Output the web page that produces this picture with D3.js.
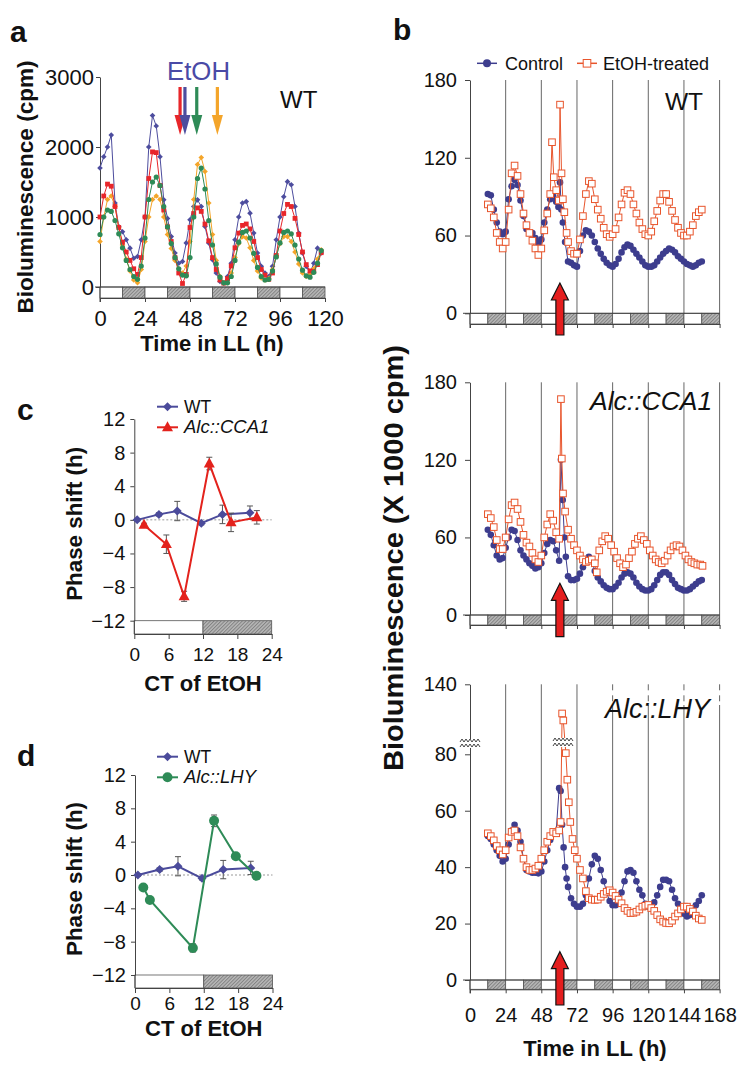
<!DOCTYPE html>
<html><head><meta charset="utf-8">
<script src="https://cdn.jsdelivr.net/npm/d3@7"></script>
<style>body{margin:0;background:#fff}</style>
</head><body><svg id="chart" width="750" height="1083"></svg>
<script>
// ---------------- DATA ----------------
// Panel a: WT bioluminescence (cpm), EtOH at different times
const timeA = [0,2,4,6,8,10,12,14,16,18,20,22,24,26,28,30,32,34,36,38,40,42,44,46,48,50,52,54,56,58,60,62,64,66,68,70,72,74,76,78,80,82,84,86,88,90,92,94,96,98,100,102,104,106,108,110,112,114,116,118];
const blueA = [1700,1860,2000,2170,1200,865,790,675,555,410,435,675,1000,2000,2450,2300,1860,1245,980,720,485,340,365,630,960,1150,1245,1150,865,630,390,200,80,57,150,340,675,1000,1200,1220,1055,770,485,295,200,150,295,675,1000,1290,1505,1460,1150,770,485,295,200,340,555,485];
const redA = [1000,1300,1470,1440,1150,850,640,500,380,260,180,420,1000,1550,1930,1920,1450,1100,860,650,420,200,50,180,850,1050,1130,1080,900,660,420,250,100,55,120,300,560,770,880,900,830,650,420,250,170,110,200,450,800,1050,1180,1150,980,750,500,320,230,220,320,490];
const greenA = [750,1000,1100,1080,950,760,560,380,250,150,110,300,700,1250,1500,1570,1450,1150,860,620,420,260,170,160,420,1000,1550,1700,1400,950,600,330,140,60,60,150,380,640,780,800,700,480,280,150,100,110,230,430,630,780,800,760,600,400,240,160,140,210,340,520];
const orangeA = [650,1000,1250,1300,1150,850,600,400,230,100,60,250,650,1000,1250,1300,1250,1000,750,550,380,260,200,300,650,1250,1750,1850,1650,1200,750,380,150,60,60,200,420,620,720,700,560,380,230,130,100,120,250,450,620,720,720,650,500,330,200,150,180,260,400,530];
const arrowTimesA = [42.7, 45.3, 51.6, 62.6];
const arrowColorsA = ["#e8262a", "#4d4d9e", "#2e8b57", "#f4a52a"];
const aTicksX = [0,24,48,72,96,120];
const aTicksY = [0,1000,2000,3000];

// Panel b: [time (h), bioluminescence x1000 cpm]
const wtControl = [[12,92],[14,91],[16,80],[18,70],[20,63],[22,61],[24,63],[26,88],[28,98],[30,103],[32,99],[34,87],[36,75],[38,65],[40,62],[42,62],[44,58],[46,54],[48,57],[50,70],[52,80],[54,88],[56,90],[58,86],[59.5,82],[60.6,101],[61.5,80],[62.5,70],[64,55],[66,40],[68,39],[70,37],[72,36],[74,48],[76,60],[78,64],[80,63],[82,60],[84,55],[86,50],[88,46],[90,42],[92,39],[94,37],[96,36],[98,38],[100,42],[102,47],[104,51],[106,53],[108,52],[110,49],[112,46],[114,43],[116,40],[118,37],[120,36],[122,36],[124,37],[126,40],[128,43],[130,46],[132,48],[134,50],[136,49],[138,47],[140,44],[142,42],[144,40],[146,38],[148,37],[150,36],[152,37],[154,39],[156,40]];
const wtEtOH = [[12,84],[14,81],[16,74],[18,62],[20,55],[22,50],[24,55],[26,80],[28,108],[30,114],[32,106],[34,92],[36,77],[38,68],[40,62],[42,56],[44,50],[46,45],[48,50],[50,64],[52,77],[54,92],[55.2,132],[56.4,105],[58,95],[59.8,87],[60.6,161],[61.6,108],[62.5,88],[63.5,78],[65,62],[66,55],[68,48],[70,46],[72,46],[74,57],[76,75],[78,92],[80,102],[82,100],[84,88],[86,80],[88,73],[90,66],[92,61],[94,59],[96,61],[98,65],[100,74],[102,84],[104,93],[106,95],[108,92],[110,84],[112,77],[114,70],[116,65],[118,61],[120,60],[122,63],[124,71],[126,79],[128,87],[130,92],[132,92],[134,86],[136,79],[138,72],[140,66],[142,62],[144,60],[146,60],[148,63],[150,68],[152,75],[154,78],[156,80]];
const ccaControl = [[12,66],[14,62],[16,54],[18,46],[20,43],[22,44],[24,52],[26,60],[28,66],[30,65],[32,58],[34,50],[36,46],[38,43],[40,40],[42,38],[44,36],[46,37],[48,40],[50,48],[52,55],[54,58],[56,57],[58,50],[60,42],[61.2,120],[62.4,89],[63.5,60],[64.5,45],[66,30],[68,27],[70,27],[72,28],[74,32],[76,37],[78,42],[80,45],[82,42],[84,34],[86,29],[88,26],[90,23],[92,21],[94,20],[96,20],[98,22],[100,25],[102,29],[104,32],[106,33],[108,32],[110,29],[112,25],[114,22],[116,20],[118,19],[120,19],[122,20],[124,23],[126,27],[128,31],[130,33],[132,33],[134,31],[136,27],[138,24],[140,21],[142,20],[144,19],[146,19],[148,20],[150,22],[152,24],[154,26],[156,27]];
const ccaEtOH = [[12,78],[14,75],[16,68],[18,58],[20,51],[22,51],[24,60],[26,74],[28,85],[30,87],[32,82],[34,72],[36,62],[38,56],[40,53],[42,48],[44,43],[46,41],[48,46],[50,60],[52,70],[54,78],[56,73],[58,64],[60,59],[61.2,167],[61.8,121],[62.6,94],[64,80],[66,66],[68,59],[70,54],[72,50],[74,46],[76,43],[78,41],[80,42],[82,43],[84,40],[85.3,33],[87,50],[89,57],[91,61],[93,59],[95,54],[97,49],[99,44],[101,40],[103,37],[105,39],[107,44],[109,49],[111,55],[113,59],[115,61],[117,58],[119,55],[121,50],[123,46],[125,43],[127,41],[129,40],[131,42],[133,46],[135,50],[137,53],[139,54],[141,53],[143,50],[145,46],[147,43],[149,41],[151,40],[153,39],[155,39],[156.5,38]];
const lhyControl = [[12,51],[14,50],[16,48],[18,46],[20,44],[22,42],[24,43],[26,48],[28,53],[30,55],[32,53],[34,49],[36,43],[38,39],[40,38.5],[42,38],[44,38],[46,37.8],[48,38.5],[50,42],[52,46],[54,49.6],[56,52],[58,52.6],[60,68],[61,67],[62,55],[63,47],[64,40],[65,36],[66,33],[68,29],[70,27],[72,26],[74,26],[76,27],[78,30],[80,36],[82,41],[84,44],[86,43],[88,39],[90,35],[92,31],[94,28],[96,26.5],[98,26.5],[100,28],[102,31],[104,35],[106,38.5],[108,39],[110,38],[112,35],[114,32],[116,30],[118,27],[120,26],[122,26],[124,27.5],[126,30],[128,33],[130,35.5],[132,35.5],[134,35],[136,32],[138,29],[140,27],[142,25],[144,23.5],[146,22.5],[148,23],[150,24.5],[152,26.5],[154,28],[156,30]];
const lhyEtOH = [[12,52],[14,51],[16,49.5],[18,47.5],[20,46],[22,44.5],[24,46],[26,50.5],[28,52.5],[30,53],[32,51],[34,47],[36,43],[38,40],[40,39],[42,39],[44,39.5],[46,40.5],[48,43],[50,46],[52,49],[54,51],[56,52.5],[58,52],[60,53],[61,56],[62,115],[62.8,109],[64.5,81],[65.5,71],[66.5,63],[67.5,56],[69,50],[70.5,46],[72,43],[74,39],[76,36],[78,31.5],[80,29],[82,28.5],[84,28.4],[86,28.5],[88,29.5],[90,30.5],[92,31.3],[94,31.8],[96,31],[98,29.8],[100,28.5],[102,27.2],[104,25.5],[106,24.5],[108,23.7],[110,23.8],[112,24.2],[114,25],[116,26],[118,26.3],[120,26.6],[122,25.5],[124,24.5],[126,23],[128,21.5],[130,20.7],[132,20.2],[134,20.1],[136,21],[138,22.5],[140,23.6],[142,25],[144,26],[146,26],[148,25.2],[150,24.3],[152,22.8],[154,21.8],[156,21.3]];
const bTicksX = [0,24,48,72,96,120,144,168];
const bTicksY = [0,60,120,180];
const lhyTicksY = [0,20,40,60,80,140];
const bArrowTime = 60.5;

// Panels c, d: phase shift (h) vs CT of EtOH
const wtCT = [0.5, 4.3, 7.5, 11.7, 15.4, 20.2];
const wtShift = [0, 0.65, 1.05, -0.4, 0.65, 0.85];
const wtErr = [0.15, 0.2, 1.15, 0.2, 1.1, 0.8];
const ccaCT = [1.7, 5.6, 8.7, 13.1, 16.9, 21.4];
const ccaShift = [-0.6, -2.9, -9.1, 6.7, -0.3, 0.3];
const ccaErr = [0.2, 1.1, 0.6, 0.75, 1.1, 0.8];
const lhyCT = [1.45, 2.6, 10.1, 13.8, 17.6, 21.2];
const lhyShift = [-1.5, -3.0, -8.75, 6.5, 2.25, -0.1];
const lhyErr = [0.2, 0.2, 0.5, 0.7, 0.3, 0.2];
const cdTicksX = [0,6,12,18,24];
const cdTicksY = [-12,-8,-4,0,4,8,12];

// ---------------- DRAWING ----------------
const FONT = '"Liberation Sans", Arial, Helvetica, sans-serif';
const svg = d3.select("#chart");
svg.append("rect").attr("width",750).attr("height",1083).attr("fill","#fff");
const defs = svg.append("defs");
const pat = defs.append("pattern").attr("id","hatch").attr("patternUnits","userSpaceOnUse")
  .attr("width",2.5).attr("height",2.5).attr("patternTransform","rotate(45)");
pat.append("rect").attr("width",2.5).attr("height",2.5).attr("fill","#b8b8b8");
pat.append("line").attr("x1",0.5).attr("y1",0).attr("x2",0.5).attr("y2",2.5).attr("stroke","#828282").attr("stroke-width",1);

const PURPLE = "#4b4b9b", BPURPLE = "#3d3d8e", BRED = "#e8552c";

function text(g, x, y, s, size, o = {}) {
  const t = g.append("text").attr("x", x).attr("y", y).text(s)
    .attr("font-family", FONT).attr("font-size", size).attr("fill", o.fill || "#111");
  if (o.bold) t.attr("font-weight", "bold");
  if (o.italic) t.attr("font-style", "italic");
  if (o.anchor) t.attr("text-anchor", o.anchor);
  if (o.rotate) t.attr("transform", `rotate(-90,${x},${y})`);
  if (o.len) t.attr("textLength", o.len).attr("lengthAdjust", "spacingAndGlyphs");
  return t;
}
function styleAxis(g, size) {
  g.select(".domain").attr("stroke", "#444").attr("stroke-width", 1);
  g.selectAll(".tick line").attr("stroke", "#444");
  g.selectAll(".tick text").attr("font-size", size).attr("fill", "#111").attr("font-family", FONT);
}
function ldBar(g, x, yTop, yBot, tMax, half) {
  for (let t = 0; t < tMax; t += half) {
    const dark = Math.round(t / half) % 2 === 1;
    g.append("rect").attr("x", x(t)).attr("y", yTop).attr("width", x(t + half) - x(t)).attr("height", yBot - yTop)
      .attr("fill", dark ? "url(#hatch)" : "#fff").attr("stroke", "#555").attr("stroke-width", 0.8);
  }
}
function marker(g, shape, cx, cy, s, color) {
  if (shape === "circle") g.append("circle").attr("cx", cx).attr("cy", cy).attr("r", s).attr("fill", color);
  else if (shape === "square") g.append("rect").attr("x", cx - s).attr("y", cy - s).attr("width", 2 * s).attr("height", 2 * s).attr("fill", color);
  else if (shape === "opensq") g.append("rect").attr("x", cx - s).attr("y", cy - s).attr("width", 2 * s).attr("height", 2 * s).attr("fill", "#fff").attr("stroke", color).attr("stroke-width", 1);
  else if (shape === "diamond") g.append("path").attr("d", `M${cx},${cy - s}L${cx + s},${cy}L${cx},${cy + s}L${cx - s},${cy}Z`).attr("fill", color);
  else if (shape === "triangle") g.append("path").attr("d", `M${cx},${cy - s * 1.1}L${cx + s},${cy + s * 0.7}L${cx - s},${cy + s * 0.7}Z`).attr("fill", color);
}
function series(g, data, x, y, color, shape, s, lw) {
  g.append("path").datum(data).attr("d", d3.line().x(d => x(d[0])).y(d => y(d[1])))
    .attr("fill", "none").attr("stroke", color).attr("stroke-width", lw);
  const m = g.append("g");
  data.forEach(d => marker(m, shape, x(d[0]), y(d[1]), s, color));
}

// ===== Panel a =====
{
  const g = svg.append("g");
  const x = d3.scaleLinear().domain([0, 120]).range([100, 325]);
  const y = d3.scaleLinear().domain([0, 3000]).range([287, 77]);
  ldBar(g, x, 287, 298, 120, 12);
  g.append("line").attr("x1", 95).attr("x2", 325).attr("y1", 287).attr("y2", 287).attr("stroke", "#444");
  const ya = g.append("g").attr("transform", "translate(100,0)")
    .call(d3.axisLeft(y).tickValues(aTicksY).tickSize(4).tickPadding(2).tickSizeOuter(0).tickFormat(d3.format("d")));
  styleAxis(ya, 22);
  g.append("line").attr("x1", 100).attr("x2", 100).attr("y1", 287).attr("y2", 302).attr("stroke", "#444");
  const xa = g.append("g").attr("transform", "translate(0,298)")
    .call(d3.axisBottom(x).tickValues(aTicksX).tickSize(4).tickPadding(8).tickSizeOuter(0));
  styleAxis(xa, 22);
  const zip = v => timeA.map((t, i) => [t, v[i]]);
  series(g, zip(blueA), x, y, "#4d4d9e", "diamond", 2.8, 1);
  series(g, zip(orangeA), x, y, "#f4a52a", "diamond", 2.8, 1);
  series(g, zip(redA), x, y, "#e8262a", "square", 2.4, 1);
  series(g, zip(greenA), x, y, "#2e8b57", "circle", 2.6, 1);
  // arrows
  arrowTimesA.forEach((t, i) => {
    const cx = x(t), c = arrowColorsA[i];
    g.append("rect").attr("x", cx - 1.6).attr("y", 87).attr("width", 3.2).attr("height", 30).attr("fill", c);
    g.append("path").attr("d", `M${cx - 5.5},${115}L${cx + 5.5},${115}L${cx},${135}Z`).attr("fill", c);
  });
  text(g, 167, 80, "EtOH", 25, { fill: "#4a4aa6", len: 63 });
  text(g, 280, 108, "WT", 24);
  text(g, 10, 42, "a", 30, { bold: true });
  text(g, 33, 187, "Bioluminescence (cpm)", 22, { bold: true, rotate: true, anchor: "middle", len: 253 });
  text(g, 212, 351, "Time in LL (h)", 22, { bold: true, anchor: "middle" });
}

// ===== Panel b =====
const bx = d3.scaleLinear().domain([0, 168]).range([470, 719.6]);
function bPanel(y, yTopPx, zeroPx, barBot, ticksY, ctrl, trt, showLabels, arrowTip, arrowBot, dashTop) {
  const g = svg.append("g");
  bTicksX.slice(1).forEach(t => {
    if (dashTop && t >= 96) {
      g.append("line").attr("x1", bx(t)).attr("x2", bx(t)).attr("y1", yTopPx).attr("y2", dashTop).attr("stroke", "#666").attr("stroke-dasharray", "6,5");
      g.append("line").attr("x1", bx(t)).attr("x2", bx(t)).attr("y1", dashTop).attr("y2", barBot).attr("stroke", "#666");
    } else {
      g.append("line").attr("x1", bx(t)).attr("x2", bx(t)).attr("y1", yTopPx).attr("y2", barBot).attr("stroke", "#666");
    }
  });
  ldBar(g, bx, zeroPx, barBot, 168, 12);
  g.append("line").attr("x1", 463).attr("x2", 719.6).attr("y1", zeroPx).attr("y2", zeroPx).attr("stroke", "#444");
  const ya = g.append("g").attr("transform", "translate(470,0)")
    .call(d3.axisLeft(y).tickValues(ticksY).tickSize(5).tickPadding(8).tickSizeOuter(0));
  styleAxis(ya, 20);
  g.append("line").attr("x1", 470).attr("x2", 470).attr("y1", zeroPx).attr("y2", barBot + 4).attr("stroke", "#444");
  const xa = g.append("g").attr("transform", `translate(0,${barBot})`)
    .call(d3.axisBottom(bx).tickValues(bTicksX).tickSize(4).tickPadding(15).tickSizeOuter(0));
  styleAxis(xa, 20);
  if (!showLabels) xa.selectAll(".tick text").remove();
  series(g, ctrl, bx, y, BPURPLE, "circle", 3.3, 1);
  series(g, trt, bx, y, BRED, "opensq", 3.3, 1);
  const ax = bx(bArrowTime);
  g.append("path").attr("d",
    `M${ax},${arrowTip}L${ax + 8.5},${arrowTip + 17}L${ax + 4},${arrowTip + 17}L${ax + 4},${arrowBot}L${ax - 4},${arrowBot}L${ax - 4},${arrowTip + 17}L${ax - 8.5},${arrowTip + 17}Z`)
    .attr("fill", "#e41e1e").attr("stroke", "#111").attr("stroke-width", 1.2);
  return g;
}
{
  const y1 = d3.scaleLinear().domain([0, 180]).range([313.3, 80]);
  const g1 = bPanel(y1, 80, 313.3, 324, bTicksY, wtControl, wtEtOH, false, 283, 335, null);
  text(g1, 665, 110, "WT", 24.5);
  g1.append("line").attr("x1", 477).attr("x2", 497).attr("y1", 63.3).attr("y2", 63.3).attr("stroke", BPURPLE).attr("stroke-width", 1.5);
  marker(g1, "circle", 487, 63.3, 4, BPURPLE);
  text(g1, 505, 70, "Control", 18);
  g1.append("line").attr("x1", 577).attr("x2", 597).attr("y1", 63.3).attr("y2", 63.3).attr("stroke", BRED).attr("stroke-width", 1.5);
  marker(g1, "opensq", 587, 63.3, 3.8, BRED);
  text(g1, 603, 70, "EtOH-treated", 18);
  text(g1, 393, 40, "b", 30, { bold: true });

  const y2 = d3.scaleLinear().domain([0, 180]).range([615, 382.3]);
  const g2 = bPanel(y2, 382.3, 615, 625, bTicksY, ccaControl, ccaEtOH, false, 583.3, 636.7, null);
  text(g2, 590, 410, "Alc::CCA1", 26.5, { italic: true });

  const y3 = d3.scaleLinear().domain([0, 80, 140]).range([980, 754.3, 684.3]);
  const g3 = bPanel(y3, 684.3, 980, 989.3, lhyTicksY, lhyControl, lhyEtOH, true, 951.7, 1005, 705);
  text(g3, 605, 718, "Alc::LHY", 27, { italic: true });
  [[470, 745], [563, 744]].forEach(([bxp, byp]) => {
    g3.append("rect").attr("x", bxp - 9).attr("y", byp - 6).attr("width", 18).attr("height", 9).attr("fill", "#fff");
    [0, 5].forEach(off => {
      let d = `M${bxp - 10},${byp - 3 + off}`;
      for (let k = 0; k < 5; k++) d += `L${bxp - 10 + 4 * k + 2},${byp - 6 + off}L${bxp - 10 + 4 * k + 4},${byp - 3 + off}`;
      g3.append("path").attr("d", d).attr("fill", "none").attr("stroke", "#444").attr("stroke-width", 1);
    });
  });
  text(svg, 595, 1056, "Time in LL (h)", 22, { bold: true, anchor: "middle" });
  text(svg, 403, 558, "Bioluminescence (X 1000 cpm)", 28, { bold: true, rotate: true, anchor: "middle", len: 426 });
}

// ===== Panels c, d =====
function phasePanel(o) {
  const g = svg.append("g");
  const x = d3.scaleLinear().domain([0, 24]).range([o.x0, o.x1]);
  const y = d3.scaleLinear().domain([-12, 12]).range([o.yBot, o.yTop]);
  ldBar(g, x, o.yBot, o.barBot, 24, 12);
  g.append("line").attr("x1", o.x0).attr("x2", o.x1).attr("y1", y(0)).attr("y2", y(0))
    .attr("stroke", "#999").attr("stroke-dasharray", "2,2");
  const ya = g.append("g").attr("transform", `translate(${o.x0},0)`)
    .call(d3.axisLeft(y).tickValues(cdTicksY).tickSize(4).tickPadding(5).tickSizeOuter(0));
  styleAxis(ya, 20);
  g.append("line").attr("x1", o.x0).attr("x2", o.x0).attr("y1", o.yBot).attr("y2", o.barBot).attr("stroke", "#444");
  const xa = g.append("g").attr("transform", `translate(0,${o.barBot})`)
    .call(d3.axisBottom(x).tickValues(cdTicksX).tickSize(5).tickPadding(o.xPad).tickSizeOuter(0));
  styleAxis(xa, 19);
  const drawSet = (ct, sh, er, color, shape, s) => {
    const data = ct.map((c, i) => [c, sh[i], er[i]]);
    data.forEach(d => {
      const cx = x(d[0]);
      g.append("line").attr("x1", cx).attr("x2", cx).attr("y1", y(d[1] - d[2])).attr("y2", y(d[1] + d[2])).attr("stroke", "#555");
      [d[1] - d[2], d[1] + d[2]].forEach(v => g.append("line").attr("x1", cx - 3).attr("x2", cx + 3).attr("y1", y(v)).attr("y2", y(v)).attr("stroke", "#555"));
    });
    series(g, data, x, y, color, shape, s, 2);
  };
  drawSet(wtCT, wtShift, wtErr, PURPLE, "diamond", 4.5);
  drawSet(o.ct, o.sh, o.er, o.color, o.shape, o.size);
  const lx0 = 157, lx1 = 178;
  g.append("line").attr("x1", lx0).attr("x2", lx1).attr("y1", o.leg1).attr("y2", o.leg1).attr("stroke", PURPLE).attr("stroke-width", 2);
  marker(g, "diamond", (lx0 + lx1) / 2, o.leg1, 4.5, PURPLE);
  text(g, 184, o.leg1 + 6, "WT", 17.5);
  g.append("line").attr("x1", lx0).attr("x2", lx1).attr("y1", o.leg2).attr("y2", o.leg2).attr("stroke", o.color).attr("stroke-width", 2);
  marker(g, o.shape, (lx0 + lx1) / 2, o.leg2, o.size, o.color);
  text(g, 184, o.leg2 + 6, o.name, 18.5, { italic: true });
  text(g, 17, o.letterY, o.letter, 30, { bold: true });
  text(g, 82, (o.yTop + o.yBot) / 2 + 4, "Phase shift (h)", 22, { bold: true, rotate: true, anchor: "middle", len: 154 });
  text(g, (o.x0 + o.x1) / 2, o.titleY, "CT of EtOH", 22, { bold: true, anchor: "middle" });
}
phasePanel({ x0: 134.3, x1: 271.7, yTop: 419, yBot: 620.7, barBot: 634, xPad: 9,
  ct: ccaCT, sh: ccaShift, er: ccaErr, color: "#e3221c", shape: "triangle", size: 5.5, name: "Alc::CCA1",
  leg1: 406.7, leg2: 427.3, letter: "c", letterY: 420, titleY: 691 });
phasePanel({ x0: 135, x1: 272.5, yTop: 775, yBot: 975, barBot: 988, xPad: 4,
  ct: lhyCT, sh: lhyShift, er: lhyErr, color: "#2e8b57", shape: "circle", size: 5, name: "Alc::LHY",
  leg1: 756.7, leg2: 777.3, letter: "d", letterY: 766, titleY: 1036 });
</script></body></html>
